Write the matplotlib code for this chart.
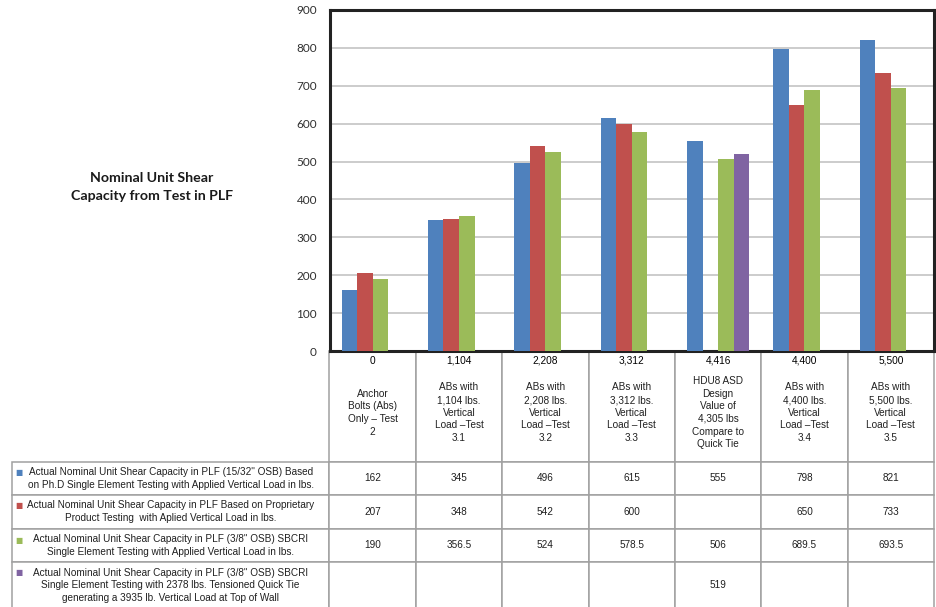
import matplotlib.pyplot as plt
import numpy as np

# categories (vertical load in lbs) and the table header text under each one
categories = ["0", "1,104", "2,208", "3,312", "4,416", "4,400", "5,500"]
descriptions = [
    "Anchor\nBolts (Abs)\nOnly \u2013 Test\n2",
    "ABs with\n1,104 lbs.\nVertical\nLoad \u2013Test\n3.1",
    "ABs with\n2,208 lbs.\nVertical\nLoad \u2013Test\n3.2",
    "ABs with\n3,312 lbs.\nVertical\nLoad \u2013Test\n3.3",
    "HDU8 ASD\nDesign\nValue of\n4,305 lbs\nCompare to\nQuick Tie",
    "ABs with\n4,400 lbs.\nVertical\nLoad \u2013Test\n3.4",
    "ABs with\n5,500 lbs.\nVertical\nLoad \u2013Test\n3.5",
]

series_names = [
    "Actual Nominal Unit Shear Capacity in PLF (15/32\" OSB) Based\n"
    "on Ph.D Single Element Testing with Applied Vertical Load in lbs.",
    "Actual Nominal Unit Shear Capacity in PLF Based on Proprietary\n"
    "Product Testing  with Aplied Vertical Load in lbs.",
    "Actual Nominal Unit Shear Capacity in PLF (3/8\" OSB) SBCRI\n"
    "Single Element Testing with Applied Vertical Load in lbs.",
    "Actual Nominal Unit Shear Capacity in PLF (3/8\" OSB) SBCRI\n"
    "Single Element Testing with 2378 lbs. Tensioned Quick Tie\n"
    "generating a 3935 lb. Vertical Load at Top of Wall",
]

blue_vals = [162, 345, 496, 615, 555, 798, 821]
red_vals = [207, 348, 542, 600, np.nan, 650, 733]
green_vals = [190, 356.5, 524, 578.5, 506, 689.5, 693.5]
purple_vals = [np.nan, np.nan, np.nan, np.nan, 519, np.nan, np.nan]

colors = ["#4F81BD", "#C0504D", "#9BBB59", "#8064A2"]

W, H = 937, 607
fig = plt.figure(figsize=(W / 100, H / 100), dpi=100)

# plot area in pixels
left, right, top, bottom = 329.5, 934, 10, 351
ax = fig.add_axes([left / W, 1 - bottom / H, (right - left) / W, (bottom - top) / H])

x = np.arange(len(categories))
bw = 0.18
all_series = [blue_vals, red_vals, green_vals, purple_vals]
for i, (vals, c) in enumerate(zip(all_series, colors)):
    v = np.array(vals, dtype=float)
    m = ~np.isnan(v)
    ax.bar(x[m] + (i - 1.5) * bw, v[m], bw, color=c, zorder=3)

ax.set_xlim(-0.5, len(categories) - 0.5)
ax.set_ylim(0, 900)
ax.set_yticks(range(0, 901, 100))
ax.yaxis.grid(True, color="#c8c8c8", lw=1.3)
ax.set_axisbelow(True)
ax.tick_params(axis="y", length=0, pad=9, labelcolor="#303030")
for lab in ax.get_yticklabels():
    lab.set_fontfamily("Lato")
    lab.set_fontsize(8.5)
ax.set_xticks(x)
ax.set_xticklabels(categories, fontsize=7.3, family="Liberation Sans")
ax.tick_params(axis="x", length=0, pad=3.5)
for s in ax.spines.values():
    s.set_linewidth(2.2)
    s.set_color("#222222")

# data table under the chart
def fmt(v):
    return "" if np.isnan(v) else f"{v:g}"

cell_text = [[name] + [fmt(v) for v in vals] for name, vals in zip(series_names, all_series)]
header = [""] + ["\n" + d for d in descriptions]

label_w = left - 11.7
col_w = (right - left) / len(categories)
row_h = [110.7, 33.4, 33.4, 33.4, 47]
axw = right - left
axh = bottom - top
tbl_h = sum(row_h) / axh

tbl = ax.table(cellText=cell_text, colLabels=header, cellLoc="center",
               colWidths=[label_w / axw] + [col_w / axw] * len(categories),
               bbox=[-label_w / axw, -tbl_h, (label_w + axw) / axw, tbl_h])
tbl.auto_set_font_size(False)
tbl.set_fontsize(7.2)
for (r, c), cell in tbl.get_celld().items():
    cell.set_height(row_h[r] / axh)
    cell.set_edgecolor("#a0a0a0")
    cell.set_linewidth(1.1)
    t = cell.get_text()
    t.set_fontfamily("Liberation Sans")
    t.set_linespacing(1.33)
    t.set_color("#202020")
    if r == 0 and c == 0:
        cell.visible_edges = "open"

# legend keys in the row labels
key_y = [472, 505.5, 540, 572]
for ky, c in zip(key_y, colors):
    fig.text(18.5 / W, 1 - ky / H, "\u25a0", color=c, fontsize=5.5,
             ha="center", va="center", family="DejaVu Sans")

fig.text(152 / W, 1 - 187 / H, "Nominal Unit Shear\nCapacity from Test in PLF",
         ha="center", va="center", fontsize=10.2, fontweight="bold",
         family="Lato", linespacing=1.55, color="#1a1a1a")

fig.savefig("out.png", dpi=100)
